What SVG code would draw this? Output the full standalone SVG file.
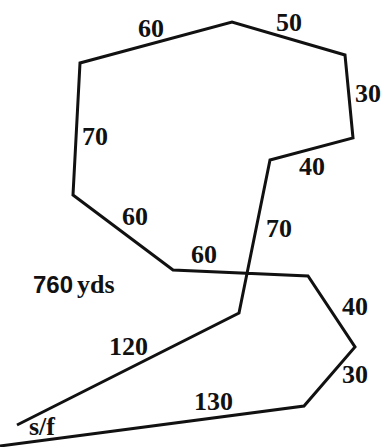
<svg xmlns="http://www.w3.org/2000/svg" width="383" height="447" viewBox="0 0 383 447">
<style>
.course{fill:none;stroke:#111;stroke-width:3;stroke-linejoin:miter;stroke-linecap:butt}
.lbl{font-family:"Liberation Serif","Times New Roman",serif;font-weight:bold;font-size:26px;fill:#111}
.sans{font-family:"Liberation Sans",Arial,sans-serif;font-weight:bold;font-size:24px;fill:#111}
</style>
<rect width="383" height="447" fill="#fff"/>
<g id="connectors">
<polyline class="course" points="17,425 239,313 270,160 353,138 345,55 232,22 80,63 73,195 173,270 308,276 355,347 304,406 0,446"/>
</g>
<g id="labels">
<text class="lbl" x="138" y="37">60</text>
<text class="lbl" x="276" y="31">50</text>
<text class="lbl" x="355" y="102">30</text>
<text class="lbl" x="82" y="145">70</text>
<text class="lbl" x="299" y="175">40</text>
<text class="lbl" x="122" y="225">60</text>
<text class="lbl" x="266" y="237">70</text>
<text class="lbl" x="191" y="263">60</text>
<text class="lbl" x="342" y="315">40</text>
<text class="lbl" x="109" y="355">120</text>
<text class="lbl" x="342" y="383">30</text>
<text class="lbl" x="194" y="410">130</text>
<text class="lbl" x="29" y="435">s/f</text>
<text x="33" y="293"><tspan class="sans">760</tspan><tspan class="lbl" dx="4">yds</tspan></text>
</g>
</svg>
